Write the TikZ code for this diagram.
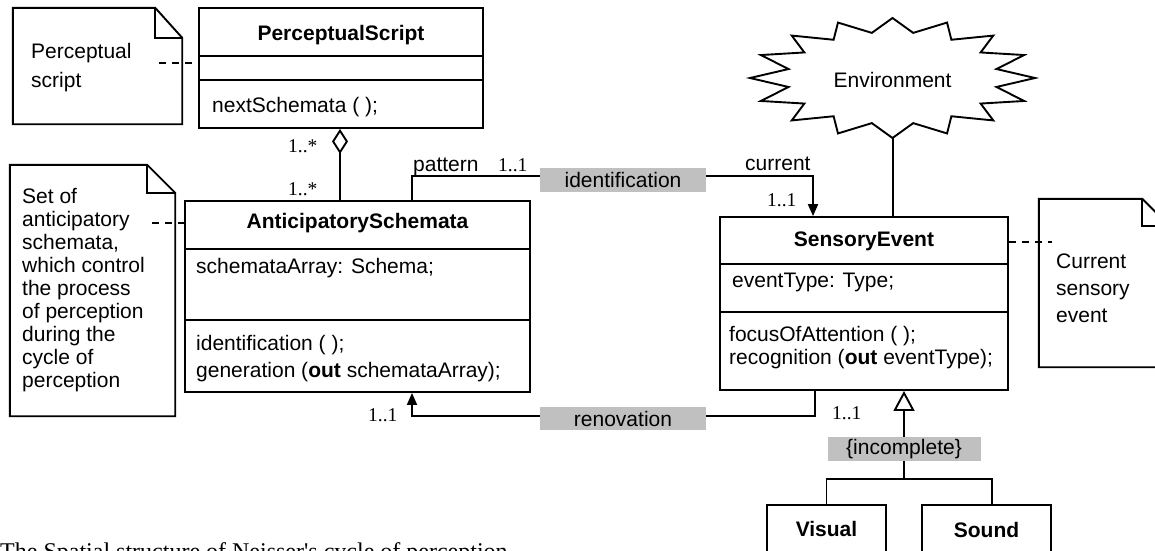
\documentclass[tikz,border=0pt]{standalone}
\usepackage{fontspec}
\setmainfont{Liberation Sans}
\newfontfamily\tms{Liberation Serif}
\usetikzlibrary{arrows.meta}
\definecolor{lblgray}{RGB}{192,192,192}
\begin{document}
\begin{tikzpicture}[x=1pt,y=-1pt,
  ln/.style={line width=1.9pt},
  cls/.style={draw,line width=1.9pt,rectangle,inner sep=0pt},
  nb/.style={rectangle,inner sep=0pt},
  tx/.style={anchor=base west,inner sep=0pt,font=\fontsize{21}{23}\selectfont},
  ttl/.style={anchor=base,inner sep=0pt,font=\fontsize{21}{23}\selectfont\bfseries},
  ml/.style={anchor=base west,inner sep=0pt,font=\tms\fontsize{19.5}{21}\selectfont},
  gl/.style={fill=lblgray,inner sep=0pt,font=\fontsize{21}{23}\selectfont},
  dsh/.style={line width=1.4pt,dash pattern=on 7pt off 6pt},
  tri/.style={-{Triangle[width=10pt,length=12pt]}},
]
\useasboundingbox (0,0) rectangle (1155,550);
\clip (0,0) rectangle (1155,550);

% ---------- classes ----------
\node[cls,minimum width=284pt,minimum height=120pt] (ps) at (341,68) {};
\node[cls,minimum width=345pt,minimum height=191pt] (as) at (357.5,296.5) {};
\node[cls,minimum width=288pt,minimum height=173pt] (se) at (864,303.5) {};
\node[cls,minimum width=119pt,minimum height=70pt] (vis) at (826.5,540) {};
\node[cls,minimum width=129pt,minimum height=70pt] (snd) at (986.5,540) {};

\draw[ln] (ps.west |- 0,56) -- (ps.east |- 0,56);
\draw[ln] (ps.west |- 0,80) -- (ps.east |- 0,80);
\draw[ln] (as.west |- 0,249) -- (as.east |- 0,249);
\draw[ln] (as.west |- 0,320) -- (as.east |- 0,320);
\draw[ln] (se.west |- 0,264) -- (se.east |- 0,264);
\draw[ln] (se.west |- 0,312) -- (se.east |- 0,312);

\node[ttl] (pst) at (341,40) {PerceptualScript};
\node[tx] (psm) at (212,112) {nextSchemata ( );};

\node[ttl] (ast) at (357.5,228) {AnticipatorySchemata};
\node[tx] (asa) at (196,273) {schemataArray: Schema;};
\node[tx] (asm1) at (196,350) {identification ( );};
\node[tx] (asm2) at (196,377) {generation (\textbf{out} schemataArray);};

\node[ttl] (set) at (864,246) {SensoryEvent};
\node[tx] (sea) at (732,287) {eventType: Type;};
\node[tx] (sem1) at (729,341) {focusOfAttention ( );};
\node[tx] (sem2) at (729,364) {recognition (\textbf{out} eventType);};

\node[ttl] (vist) at (826.5,536) {Visual};
\node[ttl] (sndt) at (986.5,537) {Sound};

% ---------- notes ----------
\node[nb,minimum width=169pt,minimum height=116pt] (n1) at (97.5,66) {};
\draw[ln] (n1.south west) -- (n1.north west) -- ([xshift=-27pt]n1.north east)
  -- ([yshift=-30pt]n1.north east) -- (n1.south east) -- cycle;
\draw[ln] ([xshift=-27pt]n1.north east) -- ([xshift=-27pt,yshift=-30pt]n1.north east)
  -- ([yshift=-30pt]n1.north east);
\node[tx] (n1a) at (31,58) {Perceptual};
\node[tx] (n1b) at (31,87) {script};

\node[nb,minimum width=165pt,minimum height=251pt] (n2) at (92.5,290.5) {};
\draw[ln] (n2.south west) -- (n2.north west) -- ([xshift=-28pt]n2.north east)
  -- ([yshift=-28pt]n2.north east) -- (n2.south east) -- cycle;
\draw[ln] ([xshift=-28pt]n2.north east) -- ([xshift=-28pt,yshift=-28pt]n2.north east)
  -- ([yshift=-28pt]n2.north east);
\foreach \t [count=\i from 0] in {Set of,anticipatory,{schemata,},which control,the process,of perception,during the,cycle of,perception}
  \node[tx] (n2l\i) at (22,{203+23*\i}) {\t};

\node[nb,minimum width=130pt,minimum height=168pt] (n3) at (1104,283) {};
\draw[ln] (n3.south west) -- (n3.north west) -- ([xshift=-27pt]n3.north east)
  -- ([yshift=-27pt]n3.north east) -- (n3.south east) -- cycle;
\draw[ln] ([xshift=-27pt]n3.north east) -- ([xshift=-27pt,yshift=-27pt]n3.north east)
  -- ([yshift=-27pt]n3.north east);
\node[tx] (n3a) at (1056,268) {Current};
\node[tx] (n3b) at (1056,295) {sensory};
\node[tx] (n3c) at (1056,322) {event};

% note anchors
\coordinate (n1d) at (159,63);
\coordinate (n2d) at (152,223);
\coordinate (n3d) at (1052,242);
\draw[dsh] (n1d) -- (ps.west |- n1d);
\draw[dsh] (n2d) -- (as.west |- n2d);
\draw[dsh] (se.east |- n3d) -- (n3d);

% ---------- environment ----------
\draw[ln,shift={(892.5,78)}] (0:142.5 and 60)
  \foreach \i in {0,...,15}{ -- ({\i*22.5+11.25}:106 and 46) -- ({(\i+1)*22.5}:142.5 and 60)} -- cycle;
\node[anchor=base,inner sep=0pt,font=\fontsize{21}{23}\selectfont] (env) at (892.5,87) {Environment};
\coordinate (envb) at (893,138);
\draw[ln] (envb) -- (se.north -| envb);

% ---------- aggregation ----------
\draw[ln,{Diamond[open,width=16pt,length=25pt]}-] (ps.south -| 340,0) -- (as.north -| 340,0);
\node[ml] (m1) at (288,152) {1..*};
\node[ml] (m2) at (288,195) {1..*};

% ---------- identification ----------
\node[gl,minimum width=166pt,minimum height=24pt] (idl) at (623,180) {identification};
\draw[ln] (as.north -| 412,0) |- (idl.west |- 0,176);
\draw[ln,tri] (idl.east |- 0,176) -| (se.north -| 813,0);
\node[tx] (pat) at (413,171) {pattern};
\node[ml] (m3) at (498,171) {1..1};
\node[tx] (cur) at (745,170) {current};
\node[ml] (m4) at (767,206) {1..1};

% ---------- renovation ----------
\node[gl,minimum width=166pt,minimum height=23pt] (ren) at (623,418.5) {renovation};
\draw[ln] (se.south -| 815,0) |- (ren.east |- 0,416);
\draw[ln,tri] (ren.west |- 0,416) -| (as.south -| 412,0);
\node[ml] (m5) at (368,421) {1..1};
\node[ml] (m6) at (832,419) {1..1};

% ---------- generalization ----------
\node[gl,minimum width=153pt,minimum height=24pt] (inc) at (904,449) {\{incomplete\}};
\coordinate (gj) at (904,479);
\draw[ln,-{Triangle[open,width=21pt,length=20pt]}] (inc.north) -- (se.south -| inc.north);
\draw[ln] (inc.south) -- (gj);
\draw[ln] (vis.north) |- (gj) -| (snd.north -| 992,0);

% ---------- caption (cut off at the lower edge, as in the reference) ----------
\node[anchor=base west,inner sep=0pt,font=\tms\fontsize{24}{26}\selectfont] (cap) at (0,559)
  {The Spatial structure of Neisser's cycle of perception};
\end{tikzpicture}
\end{document}
